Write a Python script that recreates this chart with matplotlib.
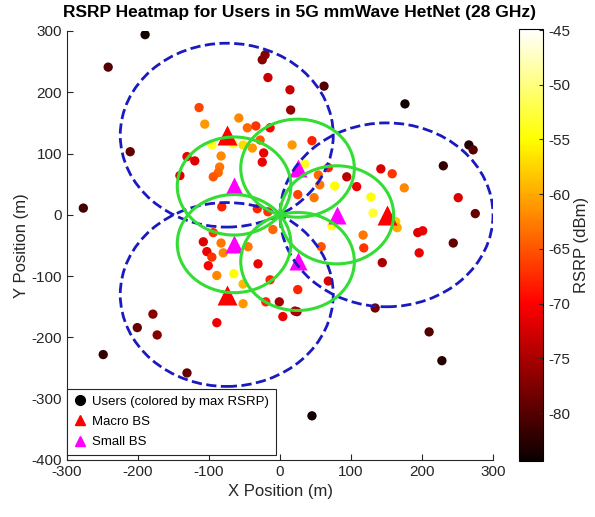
import matplotlib
matplotlib.use("Agg")
import matplotlib.pyplot as plt
from matplotlib.patches import Circle
from matplotlib.lines import Line2D
import numpy as np

plt.rcParams['font.family'] = ['Liberation Sans', 'DejaVu Sans']
plt.rcParams['axes.unicode_minus'] = False

# base stations (m)
macro_x = [150, -75, -75]
macro_y = [0, 130, -130]
macro_r = 150
small_x = [80, 24.7, -64.7, -64.7, 24.7]
small_y = [0, 76.1, 47.0, -47.0, -76.1]
small_r = 80

# users (m) and best-server RSRP (dBm)
user_x = [-190, -242, -21, -25, -17, 14, 62, 176, 15, -114,
          -106, -58, -46, -34, -14, -96, -66, -52, -39, -28,
          -23, -25, -131, -120, -83, -85, -87, -94, -141, 17,
          45, 35, 68, 54, 77, 94, 108, 56, 25, 48,
          142, 158, 175, 128, 266, 272, 230, 251, 275, 244,
          194, 201, 196, 144, 117, 118, 73, 131, 163, 165,
          58, 68, 25, 24, 134, 210, 228, 45, 4, 21,
          -1, -20, -14, -249, -201, -179, -173, -131, -89, -101,
          -89, -65, -52, -52, -31, -82, -32, -17, -10, -94,
          -108, -83, -80, -103, -96, -45, -211, -277]
user_y = [294, 241, 261, 253, 224, 204, 210, 181, 171, 175,
          148, 158, 142, 145, 142, 114, 116, 114, 109, 122,
          101, 86, 95, 88, 96, 78, 69, 62, 64, 114,
          121, 83, 77, 65, 47, 62, 46, 49, 33, 28,
          75, 67, 44, 29, 114, 106, 80, 28, 2, -46,
          -29, -26, -62, -78, -33, -54, -18, 3, -11, -21,
          -52, -108, -122, -158, -152, -191, -238, -328, -166, -157,
          -142, -142, -106, -228, -184, -162, -196, -258, -176, -83,
          -99, -96, -113, -145, -80, 13, 10, 5, -24, -29,
          -44, -46, -62, -60, -69, -52, 103, 11]
user_rsrp = [-84, -80, -77, -77, -73, -73, -80, -84, -76, -66,
             -61, -62, -64, -67, -70, -54, -53, -57, -61, -65,
             -71, -71, -71, -72, -62, -63, -64, -65, -72, -61,
             -68, -54, -68, -64, -55, -74, -71, -63, -66, -63,
             -72, -67, -62, -55, -83, -80, -82, -72, -79, -79,
             -72, -71, -71, -75, -63, -67, -54, -53, -58, -60,
             -65, -72, -68, -76, -78, -80, -83, -84, -71, -75,
             -75, -68, -68, -82, -79, -77, -77, -79, -71, -70,
             -62, -55, -59, -61, -71, -68, -68, -67, -64, -67,
             -72, -63, -62, -71, -67, -63, -79, -81]
rsrp_lim = (-84.4, -44.9)

x_ticks = np.arange(-300, 301, 100)
y_ticks = np.arange(-400, 301, 100)

fig = plt.figure(figsize=(5.95, 5.17), dpi=100)
ax = fig.add_axes([0.1126, 0.1103, 0.716, 0.8298])
cax = fig.add_axes([0.872, 0.108, 0.041, 0.836])

sc = ax.scatter(user_x, user_y, c=user_rsrp, cmap='hot', vmin=rsrp_lim[0], vmax=rsrp_lim[1],
                s=45, linewidths=0, zorder=2)
ax.plot(macro_x, macro_y, '^', color='#ff0000', ms=14, mec='none', zorder=3)
ax.plot(small_x, small_y, '^', color='#ff00ff', ms=13, mec='none', zorder=3)

for cx, cy in zip(macro_x, macro_y):
    ax.add_patch(Circle((cx, cy), macro_r, fill=False, ls='--', lw=2, ec='#1a1ac0', zorder=4))
for cx, cy in zip(small_x, small_y):
    ax.add_patch(Circle((cx, cy), small_r, fill=False, ls='-', lw=2.2, ec='#33dd33', zorder=4))

ax.set_xlim(-300, 300)
ax.set_ylim(-400, 300)
ax.set_xticks(x_ticks)
ax.set_yticks(y_ticks)
ax.tick_params(direction='in', length=4, labelsize=11, colors='#262626', width=0.8)
for side in ('top', 'right'):
    ax.spines[side].set_visible(False)
for side in ('left', 'bottom'):
    ax.spines[side].set_color('#262626')
    ax.spines[side].set_linewidth(0.8)
ax.set_xlabel('X Position (m)', fontsize=12, color='#262626', labelpad=4)
ax.set_ylabel('Y Position (m)', fontsize=12, color='#262626', labelpad=2)

fig.text(0.503, 0.976, 'RSRP Heatmap for Users in 5G mmWave HetNet (28 GHz)',
         ha='center', va='center', fontsize=12.5, fontweight='bold')

handles = [Line2D([], [], ls='none', marker='o', color='black', ms=7),
           Line2D([], [], ls='none', marker='^', color='#ff0000', ms=7),
           Line2D([], [], ls='none', marker='^', color='#ff00ff', ms=7)]
leg = ax.legend(handles, ['Users (colored by max RSRP)', 'Macro BS', 'Small BS'],
                loc='lower left', bbox_to_anchor=(0.0, 0.012), borderaxespad=0,
                fontsize=9.5, handlelength=1.0, handletextpad=0.4, borderpad=0.5,
                labelspacing=0.6, fancybox=False, framealpha=1)
leg.get_frame().set_edgecolor('#262626')
leg.get_frame().set_linewidth(0.8)

cb = fig.colorbar(sc, cax=cax)
cb.set_ticks(np.arange(-80, -44, 5))
cb.ax.tick_params(direction='in', length=3, labelsize=11, colors='#262626', width=0.8)
cb.outline.set_linewidth(0.8)
cb.set_label('RSRP (dBm)', fontsize=12, color='#262626', labelpad=3)

fig.savefig('out.png', dpi=100)
